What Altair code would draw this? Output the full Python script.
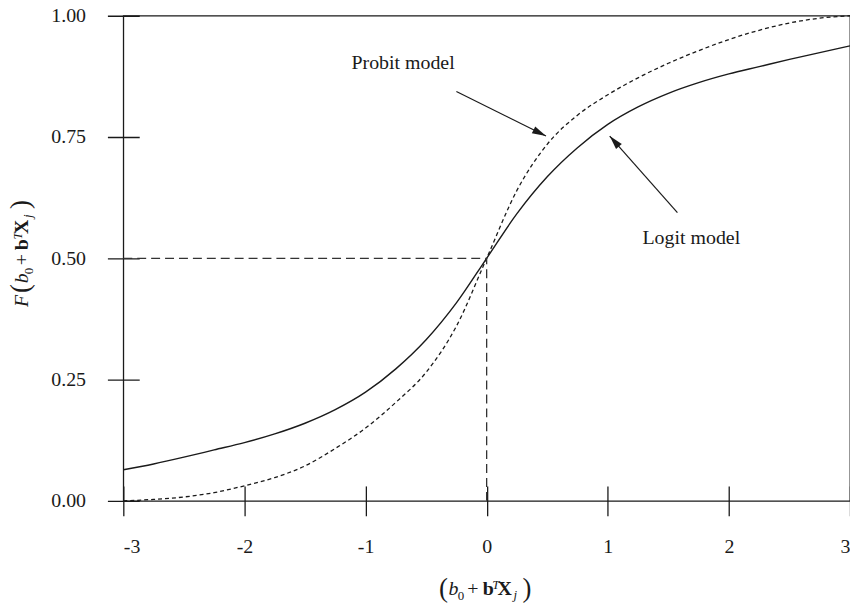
import math
import altair as alt
import pandas as pd

# ---- data ----
xs = [-3, -2.75, -2.5, -2.25, -2, -1.75, -1.5, -1.25, -1, -0.75, -0.5, -0.25, 0,
      0.25, 0.5, 0.75, 1, 1.25, 1.5, 1.75, 2, 2.25, 2.5, 2.75, 3]
logit = [0.064, 0.076, 0.090, 0.105, 0.120, 0.138, 0.160, 0.188, 0.224, 0.272, 0.332, 0.408, 0.500,
         0.592, 0.668, 0.728, 0.776, 0.812, 0.840, 0.862, 0.880, 0.895, 0.910, 0.924, 0.938]
probit = [0.000, 0.003, 0.008, 0.017, 0.031, 0.048, 0.072, 0.108, 0.150, 0.203, 0.265, 0.360, 0.500,
          0.640, 0.735, 0.795, 0.837, 0.872, 0.902, 0.928, 0.951, 0.970, 0.985, 0.995, 1.000]
x_ticks = [-3, -2, -1, 0, 1, 2, 3]
y_ticks = [0.0, 0.25, 0.50, 0.75, 1.00]

# dashed guide lines at the 0.5 crossing
guide_x = [-3, 0]
guide_x2 = [0, 0]
guide_y = [0.5, 0.0]
guide_y2 = [0.5, 0.5]

# annotations
ann_text = ["Probit model", "Logit model"]
ann_x = [-0.69, 1.69]
ann_y = [0.89, 0.529]
arrow_x0 = [-0.25, 1.575]
arrow_y0 = [0.844, 0.594]
arrow_x1 = [0.49, 1.016]
arrow_y1 = [0.752, 0.752]

W, H = 731, 488
PX, PY = W / 6.0, H / 1.0
FONT = "Liberation Serif"
INK = "#1a1a1a"

xsc = alt.Scale(domain=[-3, 3], nice=False, zero=False)
ysc = alt.Scale(domain=[0, 1], nice=False, zero=False)

curves = pd.DataFrame({"x": xs + xs,
                       "y": logit + probit,
                       "model": ["Logit"] * len(xs) + ["Probit"] * len(xs)})

x_axis = alt.Axis(values=x_ticks, title=None, domain=False, grid=False,
                  offset=-15, tickSize=30, tickColor=INK, tickWidth=1.3,
                  labelFont=FONT, labelFontSize=20, labelColor=INK, labelPadding=21,
                  labelExpr="datum.value < 0 ? '-' + abs(datum.value) : '' + datum.value")
y_axis = alt.Axis(values=y_ticks, title=None, domain=False, grid=False, format=".2f",
                  offset=-16, tickSize=32, tickColor=INK, tickWidth=1.3,
                  labelFont=FONT, labelFontSize=20, labelColor=INK, labelPadding=22)

logit_line = alt.Chart(curves).transform_filter(alt.datum.model == "Logit").mark_line(
    color=INK, strokeWidth=1.4, interpolate="monotone").encode(
    x=alt.X("x:Q", scale=xsc, axis=x_axis),
    y=alt.Y("y:Q", scale=ysc, axis=y_axis))

probit_line = alt.Chart(curves).transform_filter(alt.datum.model == "Probit").mark_line(
    color=INK, strokeWidth=1.3, strokeDash=[4, 3], interpolate="monotone").encode(
    x=alt.X("x:Q", scale=xsc), y=alt.Y("y:Q", scale=ysc))

guides = alt.Chart(pd.DataFrame({"x": guide_x, "x2": guide_x2, "y": guide_y, "y2": guide_y2})).mark_rule(
    color="#333333", strokeWidth=1.3, strokeDash=[9, 5]).encode(
    x=alt.X("x:Q", scale=xsc), x2="x2:Q", y=alt.Y("y:Q", scale=ysc), y2="y2:Q")

# arrows
r = 7.0
head_x, head_y, head_a = [], [], []
for x0, y0, x1, y1 in zip(arrow_x0, arrow_y0, arrow_x1, arrow_y1):
    sx, sy = (x1 - x0) * PX, -(y1 - y0) * PY
    n = math.hypot(sx, sy)
    ux, uy = sx / n, sy / n
    head_x.append(x1 - r * ux / PX)
    head_y.append(y1 + r * uy / PY)
    head_a.append(math.degrees(math.atan2(ux, -uy)) % 360)

arrows_df = pd.DataFrame({"x": arrow_x0, "y": arrow_y0, "x2": arrow_x1, "y2": arrow_y1,
                          "hx": head_x, "hy": head_y, "ha": head_a})
arrow_lines = alt.Chart(arrows_df).mark_rule(color=INK, strokeWidth=1.2).encode(
    x=alt.X("x:Q", scale=xsc), x2="x2:Q", y=alt.Y("y:Q", scale=ysc), y2="y2:Q")
arrow_heads = alt.Chart(arrows_df).mark_point(
    shape="M0,-1L0.55,1L-0.55,1Z", filled=True, color=INK, opacity=1, size=(2 * r) ** 2).encode(
    x=alt.X("hx:Q", scale=xsc), y=alt.Y("hy:Q", scale=ysc), angle=alt.Angle("ha:Q", scale=None))

ann = alt.Chart(pd.DataFrame({"x": ann_x, "y": ann_y, "t": ann_text})).mark_text(
    font=FONT, fontSize=20, color=INK, align="center", baseline="alphabetic").encode(
    x=alt.X("x:Q", scale=xsc), y=alt.Y("y:Q", scale=ysc), text="t:N")

# ---- composed math axis titles (page coordinates -> plot coordinates) ----
LEFT, TOP = 124, 14
one = pd.DataFrame({"a": [0]})


def piece(txt, px, py, size=20, style="normal", weight="normal", angle=0):
    return alt.Chart(one).mark_text(
        text=txt, font=FONT, fontSize=size, fontStyle=style, fontWeight=weight,
        color=INK, align="left", baseline="alphabetic", angle=angle).encode(
        x=alt.value(px - LEFT), y=alt.value(py - TOP))


x_title = [
    piece("(", 441.5, 599, 27),
    piece("b", 451, 597, 20, "italic"),
    piece("0", 460.5, 602, 13),
    piece("+", 470, 597, 20),
    piece("b", 485.5, 597, 20, weight="bold"),
    piece("T", 495, 591, 13, "italic"),
    piece("X", 500.5, 597, 20, weight="bold"),
    piece("j", 516.5, 601, 13, "italic"),
    piece(")", 525.5, 599, 27),
]
y_title = [
    piece("F", 28, 307, 20, "italic", angle=270),
    piece("(", 29.5, 293, 27, angle=270),
    piece("b", 28, 283, 20, "italic", angle=270),
    piece("0", 33, 274, 13, angle=270),
    piece("+", 28, 265, 20, angle=270),
    piece("b", 28, 250, 20, weight="bold", angle=270),
    piece("T", 22, 239, 13, "italic", angle=270),
    piece("X", 28, 233.5, 20, weight="bold", angle=270),
    piece("j", 32, 217.5, 13, "italic", angle=270),
    piece(")", 29.5, 208.5, 27, angle=270),
]

chart = alt.layer(logit_line, probit_line, guides, arrow_lines, arrow_heads, ann,
                  *x_title, *y_title).properties(
    width=W, height=H,
    autosize=alt.AutoSizeParams(type="none"),
    padding={"left": 116, "top": 6, "right": 0, "bottom": 105},
).configure_view(stroke=INK, strokeWidth=1.3)

chart.save("out.html", embed_options={"renderer": "svg", "actions": False})
